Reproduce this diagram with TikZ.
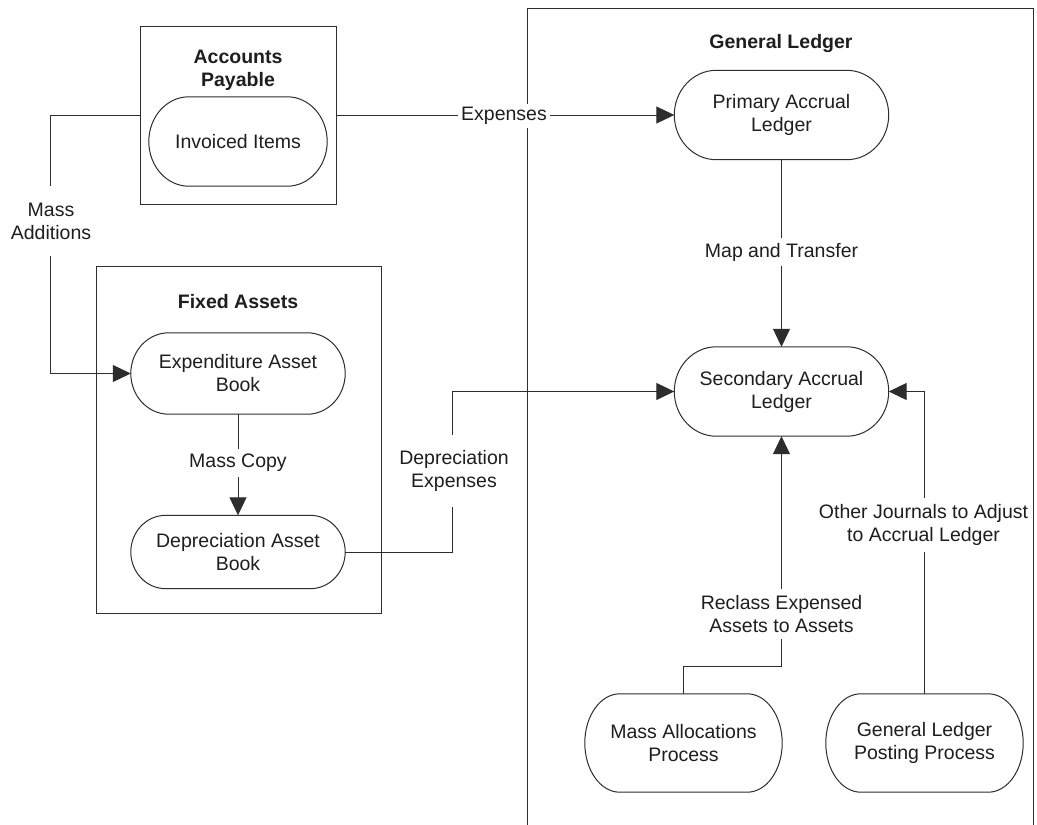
\documentclass[tikz,border=0pt]{standalone}
\usepackage{fontspec}
\setmainfont{Liberation Sans}
\usetikzlibrary{arrows.meta,calc}
\definecolor{ln}{RGB}{45,45,45}
\definecolor{tx}{RGB}{30,30,30}
\newcommand\capsuleoutline[2]{%
  \draw[con,y=1pt] let \p1=(#1.north west), \p2=(#1.south east), \n1={(\y1-\y2)/2} in
    (\x1+#2pt,\y1) -- (\x2-#2pt,\y1)
    arc[start angle=90,end angle=-90,x radius=#2pt,y radius=\n1]
    -- (\x1+#2pt,\y2)
    arc[start angle=270,end angle=90,x radius=#2pt,y radius=\n1] -- cycle;}
\begin{document}
\begin{tikzpicture}[x=1pt,y=-1pt,
  font=\fontsize{19.5}{23}\selectfont,
  grp/.style={draw=ln,line width=1pt,inner sep=0pt},
  capnode/.style={inner sep=0pt,align=center,text=tx},
  ttl/.style={font=\fontsize{19.5}{23}\selectfont\bfseries,align=center,text=tx},
  lbl/.style={fill=white,align=center,text=tx,inner xsep=3pt},
  con/.style={draw=ln,line width=1pt},
  arr/.style={con,-{Triangle[length=18pt,width=17pt]}}]
\useasboundingbox (0,0) rectangle (1037,825);
\clip (0,0) rectangle (1037,825);
\fill[white] (0,0) rectangle (1037,825);

% group boxes
\node[grp,minimum width=196pt,minimum height=178pt] (ap) at (238,115) {};
\node[grp,minimum width=285pt,minimum height=347pt] (fa) at (238.5,439.5) {};
\node[grp,minimum width=506pt,minimum height=840pt,anchor=north west] (gl) at (527,8) {};

% titles
\node[ttl] (tap) at (238,70) {Accounts\\Payable};
\node[ttl] (tfa) at (238,302) {Fixed Assets};
\node[ttl] (tgl) at (781,43) {General Ledger};

% process nodes
\node[capnode,minimum width=178pt,minimum height=89pt] (ii) at (238,141.5) {Invoiced Items};
\node[capnode,minimum width=214pt,minimum height=81pt] (eab) at (238,373.5) {Expenditure Asset\\Book};
\node[capnode,minimum width=214pt,minimum height=73pt] (dab) at (238,552) {Depreciation Asset\\Book};
\node[capnode,minimum width=214pt,minimum height=89pt] (pal) at (781.5,115) {Primary Accrual\\Ledger};
\node[capnode,minimum width=214pt,minimum height=89pt] (sal) at (781.5,391.5) {Secondary Accrual\\Ledger};
\node[capnode,minimum width=197pt,minimum height=98pt] (map) at (683.5,743) {Mass Allocations\\Process};
\node[capnode,minimum width=197pt,minimum height=98pt] (glpp) at (924.5,743) {General Ledger\\Posting Process};

\capsuleoutline{ii}{40}
\capsuleoutline{eab}{38}
\capsuleoutline{dab}{35}
\capsuleoutline{pal}{42}
\capsuleoutline{sal}{42}
\capsuleoutline{map}{35}
\capsuleoutline{glpp}{35}

% connectors
\draw[arr] (ap.west) -- ++(-89,0) |- (eab.west);
\draw[arr] (ap.east) -- (pal.west);
\draw[arr] (pal.south) -- (sal.north);
\draw[arr] (eab.south) -- (dab.north);
\draw[arr] (dab.east) -- ++(107,0) |- (sal.west);
\draw[arr] (map.north) -- ++(0,-27) -| (sal.south);
\draw[arr] (glpp.north) |- (sal.east);

% connector labels
\node[lbl,inner ysep=17pt] (lma) at (51,221) {Mass\\Additions};
\node[lbl,inner ysep=3pt] (lexp) at (504,116) {Expenses};
\node[lbl,inner ysep=5pt] (lmt) at (781.5,252) {Map and Transfer};
\node[lbl,inner ysep=5pt] (lmc) at (238,463) {Mass Copy};
\node[lbl,inner ysep=15pt] (lde) at (454,471) {Depreciation\\Expenses};
\node[lbl,inner ysep=6pt] (loj) at (923.5,525) {Other Journals to Adjust\\to Accrual Ledger};
\node[lbl,inner ysep=6pt] (lrc) at (781.5,614) {Reclass Expensed\\Assets to Assets};
\end{tikzpicture}
\end{document}
